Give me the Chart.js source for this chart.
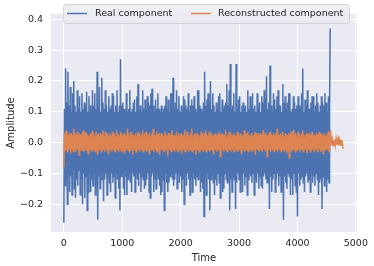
<!DOCTYPE html>
<html>
<head>
<meta charset="utf-8">
<script src="https://cdn.jsdelivr.net/npm/chart.js@4.4.1/dist/chart.umd.min.js"></script>
<style>
  html, body { margin: 0; padding: 0; background: #ffffff; }
  #wrap { width: 374px; height: 266px; }
</style>
</head>
<body>
<div id="wrap"><canvas id="signalChart" width="374" height="266"></canvas></div>
<script>
// sample spacing on the time axis
const step = 10;

// real component, one value every 10 time units (0 .. 4560)
const realValues = [
  -0.26, 0.11, -0.14, 0.24, -0.12, 0.13, -0.2, 0.23, -0.1, 0.12,
  -0.16, 0.18, -0.11, 0.1, -0.17, 0.16, -0.09, 0.2, -0.15, 0.12,
  -0.18, 0.1, -0.12, 0.17, -0.14, 0.11, -0.09, 0.15, -0.17, 0.1,
  -0.12, 0.16, -0.2, 0.11, -0.1, 0.13, -0.18, 0.12, -0.11, 0.165,
  -0.22, 0.1, -0.16, 0.15, -0.1, 0.12, -0.16, 0.11, -0.12, 0.17,
  -0.14, 0.12, -0.1, 0.16, -0.17, 0.11, -0.13, 0.23, -0.25, 0.12,
  -0.11, 0.18, -0.15, 0.1, -0.12, 0.21, -0.1, 0.13, -0.19, 0.11,
  -0.12, 0.17, -0.1, 0.12, -0.17, 0.1, -0.11, 0.15, -0.13, 0.11,
  -0.16, 0.12, -0.1, 0.16, -0.13, 0.15, -0.11, 0.1, -0.18, 0.12,
  -0.1, 0.17, -0.12, 0.1, -0.15, 0.12, -0.22, 0.27, -0.11, 0.12,
  -0.1, 0.13, -0.15, 0.11, -0.17, 0.1, -0.11, 0.16, -0.17, 0.1,
  -0.12, 0.11, -0.1, 0.17, -0.13, 0.1, -0.16, 0.11, -0.1, 0.13,
  -0.11, 0.14, -0.16, 0.1, -0.1, 0.15, -0.12, 0.19, -0.14, 0.11,
  -0.1, 0.12, -0.16, 0.1, -0.11, 0.17, -0.12, 0.11, -0.15, 0.14,
  -0.14, 0.11, -0.12, 0.15, -0.1, 0.13, -0.16, 0.12, -0.18, 0.16,
  -0.11, 0.175, -0.1, 0.12, -0.16, 0.1, -0.12, 0.14, -0.15, 0.11,
  -0.1, 0.16, -0.12, 0.11, -0.14, 0.1, -0.17, 0.12, -0.16, 0.1,
  -0.12, 0.11, -0.22, 0.12, -0.1, 0.15, -0.13, 0.11, -0.16, 0.14,
  -0.13, 0.1, -0.11, 0.16, -0.1, 0.16, -0.12, 0.21, -0.14, 0.11,
  -0.12, 0.13, -0.1, 0.17, -0.15, 0.11, -0.1, 0.15, -0.13, 0.1,
  -0.11, 0.12, -0.16, 0.1, -0.12, 0.15, -0.2, 0.14, -0.1, 0.12,
  -0.14, 0.11, -0.1, 0.16, -0.12, 0.1, -0.17, 0.12, -0.11, 0.14,
  -0.16, 0.12, -0.1, 0.15, -0.12, 0.11, -0.14, 0.1, -0.11, 0.17,
  -0.12, 0.17, -0.1, 0.12, -0.16, 0.11, -0.13, 0.1, -0.15, 0.13,
  -0.24, 0.23, -0.11, 0.12, -0.17, 0.14, -0.1, 0.16, -0.12, 0.13,
  -0.22, 0.2, -0.12, 0.11, -0.1, 0.16, -0.13, 0.12, -0.17, 0.1,
  -0.12, 0.13, -0.14, 0.11, -0.1, 0.15, -0.13, 0.16, -0.18, 0.1,
  -0.11, 0.14, -0.16, 0.11, -0.15, 0.12, -0.1, 0.13, -0.12, 0.19,
  -0.13, 0.12, -0.1, 0.17, -0.22, 0.255, -0.12, 0.11, -0.16, 0.12,
  -0.11, 0.16, -0.12, 0.1, -0.215, 0.255, -0.13, 0.11, -0.1, 0.14,
  -0.12, 0.15, -0.16, 0.1, -0.11, 0.12, -0.16, 0.13, -0.1, 0.11,
  -0.14, 0.12, -0.11, 0.1, -0.17, 0.17, -0.12, 0.11, -0.1, 0.15,
  -0.11, 0.12, -0.13, 0.16, -0.1, 0.11, -0.17, 0.12, -0.12, 0.1,
  -0.13, 0.16, -0.1, 0.11, -0.15, 0.13, -0.11, 0.1, -0.14, 0.15,
  -0.15, 0.13, -0.11, 0.17, -0.1, 0.14, -0.12, 0.215, -0.13, 0.11,
  -0.12, 0.13, -0.215, 0.25, -0.11, 0.12, -0.16, 0.1, -0.12, 0.16,
  -0.1, 0.14, -0.16, 0.11, -0.12, 0.15, -0.1, 0.17, -0.14, 0.12,
  -0.11, 0.12, -0.16, 0.1, -0.12, 0.19, -0.25, 0.13, -0.11, 0.15,
  -0.13, 0.11, -0.15, 0.13, -0.1, 0.16, -0.11, 0.16, -0.17, 0.1,
  -0.12, 0.11, -0.17, 0.15, -0.1, 0.13, -0.14, 0.11, -0.16, 0.12,
  -0.24, 0.15, -0.1, 0.12, -0.14, 0.11, -0.12, 0.16, -0.11, 0.24,
  -0.13, 0.1, -0.16, 0.14, -0.11, 0.12, -0.1, 0.17, -0.13, 0.11,
  -0.12, 0.11, -0.16, 0.13, -0.1, 0.15, -0.13, 0.15, -0.11, 0.1,
  -0.14, 0.12, -0.1, 0.16, -0.12, 0.13, -0.17, 0.1, -0.13, 0.12,
  -0.12, 0.15, -0.215, 0.13, -0.11, 0.12, -0.14, 0.16, -0.12, 0.13,
  -0.16, 0.1, -0.12, 0.15, -0.13, 0.12, 0.37
];

// reconstructed component, one value every 10 time units (0 .. 4780)
const reconValues = [
  -0.08, 0.03, -0.025, 0.035, -0.02, 0.04, -0.03, 0.025, -0.02, 0.03,
  -0.025, 0.02, -0.035, 0.03, -0.02, 0.025, -0.03, 0.045, -0.02, 0.03,
  -0.03, 0.025, -0.02, 0.035, -0.025, 0.02, -0.04, 0.03, -0.02, 0.025,
  -0.025, 0.03, -0.02, 0.04, -0.03, 0.02, -0.025, 0.035, -0.02, 0.03,
  -0.03, 0.025, -0.035, 0.02, -0.02, 0.03, -0.025, 0.025, -0.03, 0.04,
  -0.02, 0.03, -0.025, 0.02, -0.03, 0.035, -0.02, 0.025, -0.04, 0.03,
  -0.025, 0.02, -0.02, 0.03, -0.03, 0.025, -0.02, 0.04, -0.025, 0.02,
  -0.03, 0.035, -0.02, 0.025, -0.025, 0.03, -0.035, 0.02, -0.02, 0.03,
  -0.025, 0.02, -0.03, 0.035, -0.02, 0.025, -0.025, 0.03, -0.03, 0.02,
  -0.02, 0.04, -0.025, 0.025, -0.03, 0.02, -0.02, 0.035, -0.025, 0.03,
  -0.03, 0.025, -0.02, 0.03, -0.035, 0.02, -0.025, 0.025, -0.02, 0.045,
  -0.025, 0.03, -0.03, 0.02, -0.02, 0.035, -0.025, 0.025, -0.04, 0.02,
  -0.02, 0.025, -0.025, 0.03, -0.03, 0.02, -0.02, 0.035, -0.025, 0.03,
  -0.03, 0.02, -0.02, 0.025, -0.025, 0.04, -0.03, 0.025, -0.02, 0.03,
  -0.025, 0.035, -0.03, 0.02, -0.02, 0.025, -0.035, 0.03, -0.025, 0.02,
  -0.02, 0.03, -0.025, 0.045, -0.03, 0.025, -0.02, 0.02, -0.025, 0.035,
  -0.03, 0.025, -0.02, 0.03, -0.04, 0.02, -0.025, 0.03, -0.02, 0.025,
  -0.025, 0.02, -0.03, 0.035, -0.02, 0.025, -0.025, 0.02, -0.045, 0.03,
  -0.02, 0.03, -0.025, 0.025, -0.03, 0.04, -0.02, 0.025, -0.025, 0.02,
  -0.03, 0.025, -0.02, 0.035, -0.025, 0.02, -0.03, 0.03, -0.02, 0.025,
  -0.025, 0.03, -0.035, 0.02, -0.02, 0.025, -0.025, 0.04, -0.03, 0.02,
  -0.02, 0.035, -0.025, 0.025, -0.03, 0.02, -0.02, 0.03, -0.025, 0.045,
  -0.03, 0.02, -0.02, 0.025, -0.025, 0.03, -0.04, 0.025, -0.02, 0.03,
  -0.025, 0.025, -0.03, 0.02, -0.02, 0.035, -0.025, 0.03, -0.03, 0.02,
  -0.02, 0.03, -0.025, 0.04, -0.03, 0.025, -0.02, 0.02, -0.025, 0.035,
  -0.03, 0.025, -0.02, 0.03, -0.025, 0.02, -0.035, 0.025, -0.02, 0.03,
  -0.025, 0.02, -0.03, 0.025, -0.02, 0.035, -0.025, 0.03, -0.045, 0.025,
  -0.02, 0.03, -0.025, 0.02, -0.03, 0.025, -0.02, 0.04, -0.025, 0.02,
  -0.03, 0.025, -0.02, 0.035, -0.025, 0.03, -0.03, 0.02, -0.02, 0.025,
  -0.025, 0.03, -0.03, 0.025, -0.02, 0.02, -0.025, 0.035, -0.03, 0.03,
  -0.02, 0.025, -0.025, 0.03, -0.035, 0.02, -0.02, 0.025, -0.025, 0.04,
  -0.03, 0.02, -0.02, 0.03, -0.025, 0.035, -0.03, 0.025, -0.02, 0.02,
  -0.025, 0.03, -0.03, 0.02, -0.02, 0.025, -0.025, 0.035, -0.04, 0.03,
  -0.02, 0.025, -0.025, 0.03, -0.03, 0.02, -0.02, 0.03, -0.025, 0.025,
  -0.03, 0.04, -0.02, 0.025, -0.025, 0.03, -0.03, 0.02, -0.045, 0.025,
  -0.02, 0.03, -0.025, 0.035, -0.03, 0.025, -0.02, 0.02, -0.025, 0.03,
  -0.03, 0.025, -0.02, 0.03, -0.025, 0.045, -0.03, 0.025, -0.02, 0.02,
  -0.025, 0.03, -0.03, 0.025, -0.02, 0.035, -0.025, 0.02, -0.03, 0.03,
  -0.02, 0.025, -0.035, 0.02, -0.025, 0.03, -0.05, 0.025, -0.02, 0.035,
  -0.03, 0.02, -0.025, 0.04, -0.02, 0.025, -0.03, 0.03, -0.025, 0.02,
  -0.025, 0.035, -0.02, 0.025, -0.03, 0.02, -0.025, 0.03, -0.02, 0.04,
  -0.03, 0.025, -0.025, 0.02, -0.02, 0.03, -0.035, 0.025, -0.025, 0.03,
  -0.02, 0.03, -0.03, 0.025, -0.025, 0.035, -0.02, 0.02, -0.03, 0.025,
  -0.025, 0.02, -0.02, 0.03, -0.03, 0.025, -0.025, 0.035, -0.02, 0.03,
  -0.03, 0.025, -0.025, 0.02, -0.035, 0.03, -0.02, 0.025, -0.025, 0.02,
  -0.02, 0.03, -0.025, 0.035, -0.03, 0.025, 0.04, -0.01, 0.008, -0.006,
  0.008, -0.01, 0.006, -0.008, 0.01, -0.007, 0.009, -0.008, 0.007, -0.006,
  0.008, -0.009, 0.006, -0.008, 0.01, -0.007, 0.008, -0.006, -0.02
];

const xTicks = [0, 1000, 2000, 3000, 4000, 5000];
const yTicks = [-0.2, -0.1, 0.0, 0.1, 0.2, 0.3, 0.4];

const textColor = '#262626';
const fontFamily = '"DejaVu Sans", sans-serif';

function toPoints(values) {
    return values.map((v, i) => ({ x: i * step, y: v }));
}

// seaborn style grey panel behind the plot
const panelBackground = {
    id: 'panelBackground',
    beforeDraw(chart) {
        const { ctx, chartArea: a } = chart;
        ctx.save();
        ctx.fillStyle = '#eaeaf2';
        ctx.fillRect(a.left, a.top, a.right - a.left, a.bottom - a.top);
        ctx.restore();
    }
};

// framed legend inside the plot, like matplotlib's
const boxLegend = {
    id: 'boxLegend',
    afterDraw(chart) {
        const ctx = chart.ctx;
        const x0 = 63, y0 = 4, w = 286, h = 19, r = 3;
        ctx.save();
        ctx.beginPath();
        ctx.roundRect(x0 + 0.5, y0 + 0.5, w, h, r);
        ctx.fillStyle = 'rgba(234,234,242,0.8)';
        ctx.fill();
        ctx.strokeStyle = 'rgba(204,204,204,0.8)';
        ctx.lineWidth = 1;
        ctx.stroke();

        const items = [[67, 95], [191, 218]];
        ctx.font = '9.5px ' + fontFamily;
        ctx.textBaseline = 'middle';
        chart.data.datasets.forEach((ds, i) => {
            const [lx, tx] = items[i];
            ctx.strokeStyle = ds.borderColor;
            ctx.lineWidth = 1.5;
            ctx.beginPath();
            ctx.moveTo(lx, 13.5);
            ctx.lineTo(lx + 20, 13.5);
            ctx.stroke();
            ctx.fillStyle = textColor;
            ctx.fillText(ds.label, tx, 14);
        });
        ctx.restore();
    }
};

const signalChart = new Chart(document.getElementById('signalChart'), {
    type: 'line',
    data: {
        datasets: [{
            label: 'Real component',
            data: toPoints(realValues),
            borderColor: '#4c72b0',
            borderWidth: 1.5,
            pointRadius: 0,
            order: 1
        }, {
            label: 'Reconstructed component',
            data: toPoints(reconValues),
            borderColor: '#dd8452',
            borderWidth: 1.5,
            pointRadius: 0,
            order: 0
        }]
    },
    options: {
        responsive: false,
        animation: false,
        layout: { padding: { top: 0, right: 12, bottom: 0, left: 0 } },
        plugins: {
            legend: { display: false },
            tooltip: { enabled: false }
        },
        scales: {
            x: {
                type: 'linear',
                min: -220,
                max: 5017,
                afterBuildTicks: (s) => { s.ticks = xTicks.map(v => ({ value: v })); },
                afterFit: (s) => { s.height = 34; },
                grid: { color: '#ffffff', lineWidth: 1, drawTicks: false },
                border: { display: false },
                ticks: {
                    color: textColor,
                    padding: 6,
                    maxRotation: 0,
                    font: { family: fontFamily, size: 9.5 },
                    callback: (v) => String(v)
                },
                title: {
                    display: true,
                    text: 'Time',
                    color: textColor,
                    padding: { top: 0, bottom: 2 },
                    font: { family: fontFamily, size: 10 }
                }
            },
            y: {
                min: -0.29,
                max: 0.418,
                afterBuildTicks: (s) => { s.ticks = yTicks.map(v => ({ value: v })); },
                afterFit: (s) => { s.width = 51; },
                grid: { color: '#ffffff', lineWidth: 1, drawTicks: false },
                border: { display: false },
                ticks: {
                    color: textColor,
                    padding: 8,
                    font: { family: fontFamily, size: 9.5 },
                    callback: (v) => v.toFixed(1).replace('-', '\u2212')
                },
                title: {
                    display: true,
                    text: 'Amplitude',
                    color: textColor,
                    padding: { top: 5, bottom: 0 },
                    font: { family: fontFamily, size: 10 }
                }
            }
        }
    },
    plugins: [panelBackground, boxLegend]
});
</script>
</body>
</html>
